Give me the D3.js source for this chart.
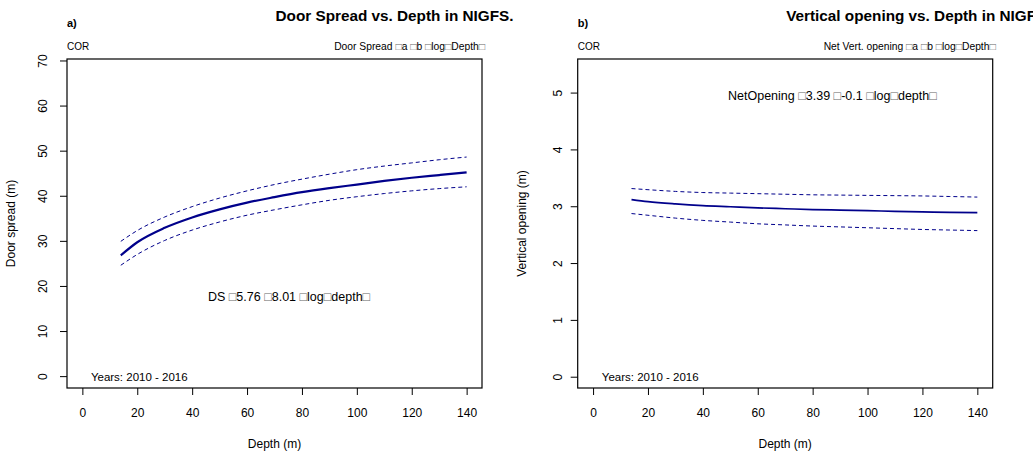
<!DOCTYPE html>
<html>
<head>
<meta charset="utf-8">
<script src="https://cdn.jsdelivr.net/npm/d3@7"></script>
<style>
  html, body { margin: 0; padding: 0; background: #fff; }
  svg { display: block; font-family: "Liberation Sans", Arial, Helvetica, sans-serif; }
</style>
</head>
<body>
<svg id="chart" width="1033" height="452"></svg>
<script>
// Depths at which the fitted curves are evaluated (m)
const depths = [14, 20, 30, 40, 50, 60, 70, 80, 90, 100, 110, 120, 130, 140];

// Door spread: fit and confidence band (m)
const dsFit   = [26.9, 29.8, 33.0, 35.3, 37.1, 38.6, 39.8, 40.9, 41.8, 42.6, 43.4, 44.1, 44.7, 45.3];
const dsUpper = [30.0, 32.4, 35.4, 37.7, 39.6, 41.2, 42.6, 43.8, 44.9, 45.9, 46.7, 47.4, 48.1, 48.7];
const dsLower = [24.7, 27.1, 30.2, 32.5, 34.3, 35.8, 37.0, 38.1, 39.1, 39.9, 40.6, 41.2, 41.7, 42.1];

// Net vertical opening: fit and confidence band (m)
const voFit   = [3.126, 3.09, 3.05, 3.02, 3.00, 2.98, 2.965, 2.95, 2.94, 2.93, 2.92, 2.91, 2.90, 2.896];
const voUpper = [3.32, 3.30, 3.27, 3.25, 3.24, 3.23, 3.22, 3.21, 3.205, 3.20, 3.195, 3.19, 3.18, 3.17];
const voLower = [2.88, 2.85, 2.80, 2.76, 2.73, 2.70, 2.68, 2.66, 2.645, 2.63, 2.615, 2.60, 2.59, 2.58];

// Tick labels
const xTicks  = [0, 20, 40, 60, 80, 100, 120, 140];
const dsTicks = [0, 10, 20, 30, 40, 50, 60, 70];
const voTicks = [0, 1, 2, 3, 4, 5];

const BOX = "\u25A1";
const ink = "#000";
const curveCol = "#00008B";

const svg = d3.select("#chart");

function panel(opt) {
  const g = svg.append("g");
  const x = d3.scaleLinear().domain([-5.6, 145.6]).range([opt.left, opt.right]);
  const y = d3.scaleLinear().domain(opt.yDomain).range([opt.bottom, opt.top]);

  // x axis
  const xa = g.append("g").attr("transform", `translate(0,${opt.bottom})`)
    .call(d3.axisBottom(x).tickValues(xTicks).tickSize(7).tickPadding(13).tickFormat(d3.format("d")));
  xa.select(".domain").remove();
  xa.selectAll("line").attr("stroke", ink);
  xa.selectAll("text").attr("font-size", 12).attr("fill", ink).attr("font-family", null);

  // y axis with rotated labels
  const ya = g.append("g").attr("transform", `translate(${opt.left},0)`)
    .call(d3.axisLeft(y).tickValues(opt.yTicks).tickSize(7).tickFormat(d3.format("d")));
  ya.select(".domain").remove();
  ya.selectAll("line").attr("stroke", ink);
  ya.selectAll("text")
    .attr("font-size", 12).attr("fill", ink).attr("font-family", null)
    .attr("x", null).attr("dy", null)
    .attr("text-anchor", "middle")
    .attr("transform", d => `translate(${-opt.labelOff},${y(d)}) rotate(-90)`)
    .attr("y", 0)
    .attr("dominant-baseline", "central");
  ya.selectAll(".tick").attr("transform", null);
  ya.selectAll(".tick line").attr("transform", d => `translate(0,${y(d)})`);

  // plot frame
  g.append("rect")
    .attr("x", opt.left).attr("y", opt.top)
    .attr("width", opt.right - opt.left).attr("height", opt.bottom - opt.top)
    .attr("fill", "none").attr("stroke", ink).attr("stroke-width", 1.2);

  // fitted curve and band
  const line = d3.line().x(d => x(d[0])).y(d => y(d[1])).curve(d3.curveMonotoneX);
  const pts = arr => depths.map((d, i) => [d, arr[i]]);
  [opt.upper, opt.lower].forEach(arr => {
    g.append("path").attr("d", line(pts(arr)))
      .attr("fill", "none").attr("stroke", curveCol)
      .attr("stroke-width", 1).attr("stroke-dasharray", "4,3");
  });
  g.append("path").attr("d", line(pts(opt.fit)))
    .attr("fill", "none").attr("stroke", curveCol).attr("stroke-width", opt.fitWidth);

  // axis titles
  const midX = (opt.left + opt.right) / 2;
  const midY = (opt.top + opt.bottom) / 2;
  g.append("text").attr("x", midX).attr("y", 448).attr("text-anchor", "middle")
    .attr("font-size", 12).text("Depth (m)");
  g.append("text").attr("transform", `translate(${opt.left - opt.titleOff},${midY}) rotate(-90)`)
    .attr("text-anchor", "middle").attr("font-size", 12).text(opt.yTitle);

  // panel annotations
  g.append("text").attr("x", opt.left).attr("y", 27).attr("font-size", 11)
    .attr("font-weight", "bold").text(opt.tag);
  g.append("text").attr("x", midX + 1).attr("y", 21).attr("font-size", 15.3)
    .attr("font-weight", "bold").text(opt.title);
  g.append("text").attr("x", opt.left).attr("y", 50).attr("font-size", 10).text("COR");

  const model = g.append("text").attr("x", opt.right + 3).attr("y", 50)
    .attr("text-anchor", "end").attr("font-size", 10.3);
  addBoxed(model, opt.model);

  g.append("text").attr("x", x(opt.yearsAt)).attr("y", y(0) + 4)
    .attr("font-size", 11.5).text("Years: 2010 - 2016");

  const eq = g.append("text").attr("x", x(opt.eqAt[0])).attr("y", y(opt.eqAt[1]))
    .attr("text-anchor", "middle").attr("font-size", 12.5);
  addBoxed(eq, opt.eq);
}

// Writes a string into a text node; the box glyphs are drawn in a softer grey
function addBoxed(sel, parts) {
  parts.forEach(p => {
    if (p === BOX) {
      sel.append("tspan").attr("fill", "#666").text(BOX);
    } else {
      sel.append("tspan").text(p);
    }
  });
}

panel({
  left: 67, right: 482, top: 59, bottom: 388,
  yDomain: [-2.52, 70.44], yTicks: dsTicks, labelOff: 24, titleOff: 52,
  fit: dsFit, upper: dsUpper, lower: dsLower, fitWidth: 2.2,
  yTitle: "Door spread (m)", tag: "a)", title: "Door Spread vs. Depth in NIGFS.",
  model: ["Door Spread ", BOX, "a ", BOX, "b ", BOX, "log", BOX, "Depth", BOX],
  yearsAt: 3.1, eqAt: [75.3, 16.7],
  eq: ["DS ", BOX, "5.76 ", BOX, "8.01 ", BOX, "log", BOX, "depth", BOX]
});

panel({
  left: 577.7, right: 992.7, top: 59, bottom: 388,
  yDomain: [-0.19, 5.6], yTicks: voTicks, labelOff: 20, titleOff: 52,
  fit: voFit, upper: voUpper, lower: voLower, fitWidth: 1.7,
  yTitle: "Vertical opening (m)", tag: "b)", title: "Vertical opening vs. Depth in NIGFS.",
  model: ["Net Vert. opening ", BOX, "a ", BOX, "b ", BOX, "log", BOX, "Depth", BOX],
  yearsAt: 3.2, eqAt: [87.2, 4.87],
  eq: ["NetOpening ", BOX, "3.39 ", BOX, "-0.1 ", BOX, "log", BOX, "depth", BOX]
});
</script>
</body>
</html>
